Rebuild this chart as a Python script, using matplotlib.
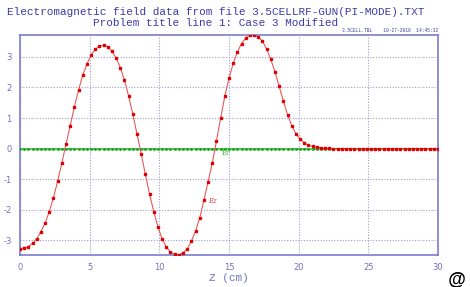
import matplotlib
matplotlib.use("Agg")
import matplotlib.pyplot as plt
import numpy as np

# ---- data ----
z_step = 0.3
ez = [-3.28, -3.26, -3.22, -3.10, -2.96, -2.72, -2.45, -2.07, -1.62, -1.07,
      -0.49, 0.14, 0.74, 1.36, 1.91, 2.40, 2.76, 3.06, 3.25, 3.35,
      3.38, 3.33, 3.19, 2.96, 2.65, 2.24, 1.71, 1.12, 0.47, -0.18,
      -0.85, -1.50, -2.07, -2.57, -2.96, -3.23, -3.39, -3.47, -3.48, -3.42,
      -3.29, -3.04, -2.70, -2.27, -1.70, -1.09, -0.47, 0.25, 1.00, 1.71,
      2.30, 2.79, 3.16, 3.44, 3.62, 3.71, 3.73, 3.66, 3.52, 3.26,
      2.92, 2.51, 2.04, 1.56, 1.11, 0.75, 0.49, 0.31, 0.18, 0.11,
      0.07, 0.04, 0.03, 0.02, 0.01, 0.0, 0.0, 0.0, 0.0, 0.0,
      0.0, 0.0, 0.0, 0.0, 0.0, 0.0, 0.0, 0.0, 0.0, 0.0,
      0.0, 0.0, 0.0, 0.0, 0.0, 0.0, 0.0, 0.0, 0.0, 0.0,
      0.0]
er = [0.0] * len(ez)
z = [round(i * z_step, 2) for i in range(len(ez))]

xticks = [0, 5, 10, 15, 20, 25, 30]
yticks = [-3, -2, -1, 0, 1, 2, 3]
title1 = "Electromagnetic field data from file 3.5CELLRF-GUN(PI-MODE).TXT"
title2 = "Problem title line 1: Case 3 Modified"
stamp = "3.5CELL.TBL    10-27-2010  14:45:32"
xlabel = "Z (cm)"

blue = "#3a3aa8"
axis_blue = "#7c7cd0"
grid_blue = "#9a9ad8"
tick_blue = "#7070c0"

fig = plt.figure(figsize=(4.70, 2.87), dpi=100)
ax = fig.add_axes([20/470, 1-254.7/287, 418/470, (254.7-34.7)/287])

ax.plot(z, er, color="#33cc33", lw=1.2, marker="s", ms=0.9,
        mfc="#229922", mec="#229922", zorder=3)
ax.plot(z, ez, color="#e85050", lw=0.75, marker="s", ms=1.8,
        mfc="#e00000", mec="#e00000", zorder=4)

ax.set_xlim(0, 30)
ax.set_ylim(min(ez), max(ez))
ax.set_xticks(xticks)
ax.set_yticks(yticks)
ax.set_xticklabels([str(t) for t in xticks])
ax.set_yticklabels([str(t) for t in yticks])
ax.grid(True, color=grid_blue, ls=(0, (1, 1.5)), lw=0.8)
ax.set_axisbelow(True)
for s in ax.spines.values():
    s.set_color(axis_blue)
    s.set_linewidth(1.2)
ax.tick_params(length=0, labelsize=6, labelcolor=tick_blue, pad=6)
for lab in ax.get_xticklabels() + ax.get_yticklabels():
    lab.set_family("DejaVu Sans")

fig.text(216/470, 1-12/287, title1, ha="center", va="center",
         family="Liberation Mono", fontsize=7.9, color=blue)
fig.text(216/470, 1-23/287, title2, ha="center", va="center",
         family="Liberation Mono", fontsize=7.9, color=blue)
fig.text(438/470, 1-30.5/287, stamp, ha="right", va="center",
         family="Liberation Mono", fontsize=3.3, color=blue)
fig.text(229/470, 1-278/287, xlabel, ha="center", va="center",
         family="Liberation Mono", fontsize=7.9, color=tick_blue)

ax.text(13.8, -1.72, "Ez", color="#e04040", fontsize=5, style="italic",
        family="DejaVu Serif", ha="center", va="center")
ax.text(14.8, -0.15, "Er", color="#33bb33", fontsize=5,
        family="DejaVu Serif", ha="center", va="center")

fig.text(456/470, 1-280/287, "@", ha="center", va="center",
         fontsize=13, fontweight="bold", style="italic", color="black",
         family="Liberation Sans")

fig.savefig("out.png", dpi=100, facecolor="white")
